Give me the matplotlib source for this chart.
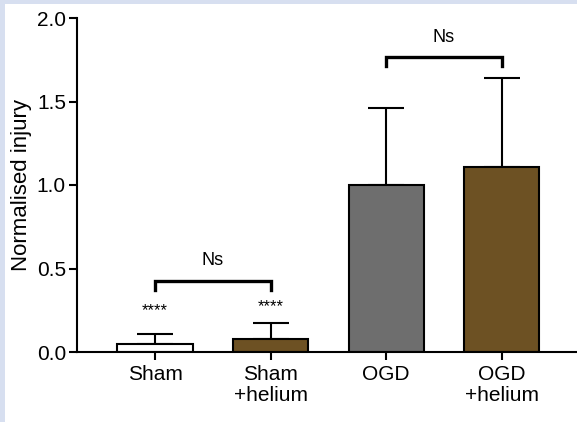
import matplotlib.pyplot as plt
from matplotlib.patches import Rectangle

plt.rcParams['font.family'] = ['Liberation Sans', 'DejaVu Sans']

groups = ['Sham', 'Sham\n+helium', 'OGD', 'OGD\n+helium']
means = [0.05, 0.08, 1.0, 1.105]
errors = [0.06, 0.095, 0.46, 0.535]
colors = ['white', '#6d5123', '#6e6e6e', '#6d5123']
stars = ['****', '****', '', '']
star_y = [0.25, 0.27]
# brackets: (left, right, height, label)
brackets = [(0, 1, 0.425, 'Ns'), (2, 3, 1.765, 'Ns')]

fig = plt.figure(figsize=(5.77, 4.22), dpi=100, facecolor='#d7dff0')
fig.patches.append(Rectangle((5 / 577, 0), 1, 1 - 4 / 422, transform=fig.transFigure,
                             facecolor='white', edgecolor='none', zorder=-10))
ax = fig.add_axes([77 / 577, 1 - 352 / 422, 1 - 77 / 577, (352 - 18) / 422])
ax.set_facecolor('none')

x = range(len(groups))
ax.bar(x, means, width=0.65, color=colors, edgecolor='black', linewidth=1.5, zorder=2)
ax.errorbar(x, means, yerr=[[0] * 4, errors], fmt='none', ecolor='black',
            elinewidth=1.5, capsize=13, capthick=1.5, zorder=1)

for i, s in enumerate(stars):
    if s:
        ax.text(i, star_y[i], s, ha='center', va='center', fontsize=12)

for l, r, h, lab in brackets:
    ax.plot([l, l, r, r], [h - 0.055, h, h, h - 0.055], color='black', lw=2.4,
            solid_joinstyle='miter')
    ax.text((l + r) / 2, h + 0.07, lab, ha='center', va='bottom', fontsize=13)

ax.set_xlim(-0.675, 3.65)
ax.set_ylim(0, 2.0)
ax.set_yticks([0, 0.5, 1.0, 1.5, 2.0])
ax.set_yticklabels(['0.0', '0.5', '1.0', '1.5', '2.0'])
ax.set_xticks(list(x))
ax.set_xticklabels(groups, linespacing=1.15)
ax.tick_params(axis='both', labelsize=15, width=1.5, length=6, direction='out')
ax.tick_params(axis='x', pad=3)
ax.tick_params(axis='y', pad=2)
ax.set_ylabel('Normalised injury', fontsize=16, labelpad=3)

for s in ['top', 'right']:
    ax.spines[s].set_visible(False)
for s in ['left', 'bottom']:
    ax.spines[s].set_linewidth(1.5)

fig.savefig('out.png', dpi=100, facecolor=fig.get_facecolor())
